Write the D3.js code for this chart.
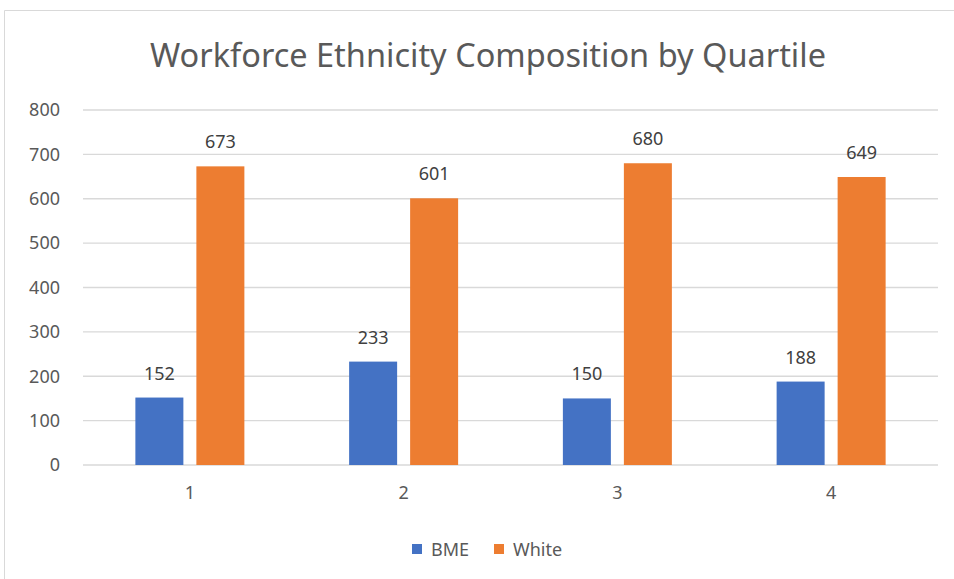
<!DOCTYPE html>
<html>
<head>
<meta charset="utf-8">
<script src="https://cdn.jsdelivr.net/npm/d3@7"></script>
<style>
  body { margin: 0; background: #fff; }
  text { font-family: "Noto Sans", "Open Sans", sans-serif; }
</style>
</head>
<body>
<div id="chart"></div>
<script>
const quartiles = ["1", "2", "3", "4"];
const seriesNames = ["BME", "White"];
const bmeValues = [152, 233, 150, 188];
const whiteValues = [673, 601, 680, 649];
const yTicks = [0, 100, 200, 300, 400, 500, 600, 700, 800];
const colors = ["#4472c4", "#ed7d31"];

const width = 954, height = 579;
const margin = {top: 110, right: 16, bottom: 114, left: 83};

const svg = d3.select("#chart").append("svg")
    .attr("width", width)
    .attr("height", height);

// chart frame (only top and left edges are visible in the crop)
svg.append("path")
    .attr("d", `M4.5,${height} V10.5 H${width}`)
    .attr("fill", "none")
    .attr("stroke", "#d9d9d9")
    .attr("stroke-width", 1);

svg.append("text")
    .attr("x", 488)
    .attr("y", 67)
    .attr("text-anchor", "middle")
    .attr("fill", "#595959")
    .style("font-size", "32.5px")
    .text("Workforce Ethnicity Composition by Quartile");

const g = svg.append("g")
    .attr("transform", `translate(${margin.left},${margin.top})`);

const w = width - margin.left - margin.right;
const h = height - margin.top - margin.bottom;

const x = d3.scaleBand().domain(quartiles).range([0, w]);
const y = d3.scaleLinear().domain([0, 800]).range([h, 0]);

// gridlines
g.selectAll(".grid")
    .data(yTicks)
    .join("line")
    .attr("class", "grid")
    .attr("x1", 0).attr("x2", w)
    .attr("y1", d => y(d)).attr("y2", d => y(d))
    .attr("stroke", "#d9d9d9")
    .attr("stroke-width", 1.3);

// y axis labels
const yAxis = g.append("g")
    .call(d3.axisLeft(y).tickValues(yTicks).tickSize(0).tickPadding(23));
yAxis.select(".domain").remove();
yAxis.selectAll("text")
    .attr("fill", "#595959")
    .style("font-size", "18px")
    .style("font-family", "'Noto Sans', sans-serif");

// x axis labels
const xAxis = g.append("g")
    .attr("transform", `translate(0,${h})`)
    .call(d3.axisBottom(x).tickSize(0).tickPadding(21));
xAxis.select(".domain").remove();
xAxis.selectAll("text")
    .attr("fill", "#595959")
    .style("font-size", "18px")
    .style("font-family", "'Noto Sans', sans-serif");

const barW = 48, barGap = 13;
const rows = quartiles.map((q, i) => ({q, values: [bmeValues[i], whiteValues[i]]}));

const groups = g.selectAll(".barG")
    .data(rows)
    .join("g")
    .attr("class", "barG")
    .attr("transform", d => `translate(${x(d.q) + x.bandwidth() / 2},0)`);

const bars = groups.selectAll("g.bar")
    .data(d => d.values.map((v, s) => ({v, s})))
    .join("g")
    .attr("class", "bar");

bars.append("rect")
    .attr("x", d => d.s === 0 ? -barGap / 2 - barW : barGap / 2)
    .attr("y", d => y(d.v))
    .attr("width", barW)
    .attr("height", d => h - y(d.v))
    .attr("fill", d => colors[d.s]);

bars.append("text")
    .attr("x", d => (d.s === 0 ? -barGap / 2 - barW / 2 : barGap / 2 + barW / 2))
    .attr("y", d => y(d.v) - 18)
    .attr("text-anchor", "middle")
    .attr("fill", "#404040")
    .style("font-size", "18px")
    .text(d => d.v);

// legend
const legend = svg.append("g").attr("transform", "translate(0,549)");
const legendX = [412, 494];
seriesNames.forEach((name, i) => {
    legend.append("rect")
        .attr("x", legendX[i]).attr("y", -5)
        .attr("width", 10).attr("height", 10)
        .attr("fill", colors[i]);
    legend.append("text")
        .attr("x", legendX[i] + 19).attr("y", 6.5)
        .attr("fill", "#595959")
        .style("font-size", "18px")
        .text(name);
});
</script>
</body>
</html>
